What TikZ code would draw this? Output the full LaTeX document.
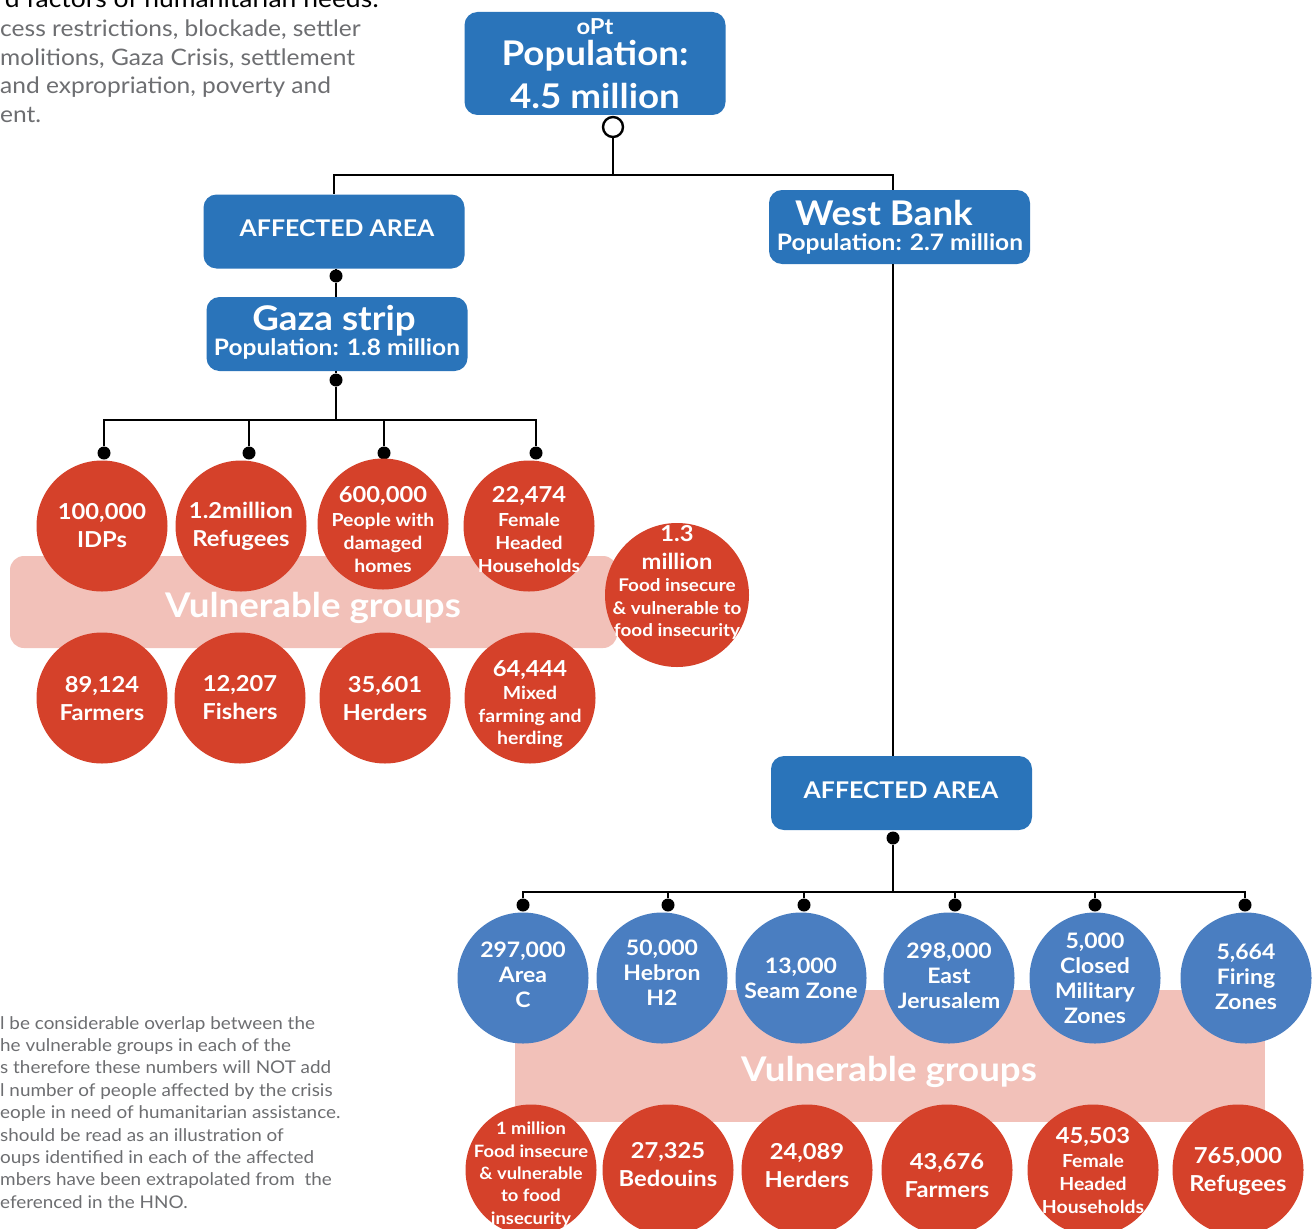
\documentclass[tikz,border=0pt]{standalone}
\usepackage{fontspec}
\setmainfont{Lato}[FakeStretch=1.08]
\newcommand\fsz[2]{\fontsize{#1}{#2}\selectfont}
\definecolor{boxblue}{HTML}{2A74BA}
\definecolor{circblue}{HTML}{4A7EC1}
\definecolor{circred}{HTML}{D5412A}
\definecolor{bandpink}{HTML}{F2C1B9}
\definecolor{graytxt}{HTML}{6D6E71}
\tikzset{
  bluebox/.style={fill=boxblue, rounded corners=13pt, draw=none, inner sep=0pt, minimum width=261pt, minimum height=74pt},
  redc/.style={circle, fill=circred, draw=none, inner sep=0pt, minimum size=131pt},
  bluec/.style={circle, fill=circblue, draw=none, inner sep=0pt, minimum size=131pt},
  band/.style={fill=bandpink, rounded corners=14pt, draw=none, inner sep=0pt},
  wt/.style={text=white, font=\bfseries, align=center, inner sep=0pt},
  conn/.style={draw=black, line width=2.8pt},
  dotn/.style={circle, fill=black, inner sep=0pt, minimum size=13pt},
  gt/.style={text=graytxt, anchor=base west, inner sep=0pt},
  big/.style={font=\bfseries\fsz{22}{28}},
  small/.style={font=\bfseries\fsz{18}{22.8}},
  bsmall/.style={font=\bfseries\fsz{21.3}{25}},
}
\begin{document}
\begin{tikzpicture}[x=1pt,y=-1pt]
\useasboundingbox (0,0) rectangle (1316,1228);
\clip (0,0) rectangle (1316,1228);
\fill[white] (0,0) rectangle (1316,1228);

% ---- top-left text
\node[anchor=base east, inner sep=0pt, font=\fsz{24.5}{30}] (hdr) at (379,8) {d factors of humanitarian needs:};
\node[gt, font=\fsz{22.7}{28}] (t1) at (0,37) {cess restrictions, blockade, settler};
\node[gt, font=\fsz{22.7}{28}] (t2) at (0,66) {molitions, Gaza Crisis, settlement};
\node[gt, font=\fsz{22.7}{28}] (t3) at (0,94) {and expropriation, poverty and};
\node[gt, font=\fsz{22.7}{28}] (t4) at (0,123) {ent.};

% ---- bottom-left text
\foreach \t [count=\i from 0] in {l be considerable overlap between the,he vulnerable groups in each of the,s therefore these numbers will NOT add,l number of people affected by the crisis,eople in need of humanitarian assistance.,should be read as an illustration of,oups identified in each of the affected,mbers have been extrapolated from \ the,eferenced in the HNO.}
  \node[gt, font=\fsz{17.5}{22}] (b\i) at (0,1029+22.4*\i) {\t};

% ---- bands
\node[band, minimum width=607pt, minimum height=92pt] (band1) at (313.5,602) {};
\node[band, rounded corners=0pt, minimum width=750pt, minimum height=132pt] (band2) at (890,1056) {};
\node[wt, font=\bfseries\fsz{34}{40}] (vg1) at (313,608) {Vulnerable groups};
\node[wt, font=\bfseries\fsz{34}{40}] (vg2) at (889,1072) {Vulnerable groups};

% ---- boxes
\node[bluebox, minimum height=103pt] (opt) at (595,63.5) {};
\node[wt, font=\bfseries\fsz{22}{26}] at (595,27) {oPt};
\node[wt, font=\bfseries\fsz{34}{40}] at (595,56) {Population:};
\node[wt, font=\bfseries\fsz{34}{40}] at (595,96) {4.5 million};

\node[bluebox] (aa1) at (334,231.5) {};
\node[wt, font=\bfseries\fsz{23}{26}] at (337,228) {AFFECTED AREA};

\node[bluebox] (gaza) at (337,334) {};
\node[wt, font=\bfseries\fsz{34}{40}] at (334,321) {Gaza strip};
\node[wt, font=\bfseries\fsz{22.7}{26}] at (337,349) {Population: 1.8 million};

\node[bluebox, minimum height=74pt] (wb) at (899.5,227) {};
\node[wt, font=\bfseries\fsz{34}{40}] at (884,213) {West Bank};
\node[wt, font=\bfseries\fsz{22.7}{26}] at (900,244) {Population: 2.7 million};

\node[bluebox] (aa2) at (901.5,793) {};
\node[wt, font=\bfseries\fsz{23}{26}] at (901,790) {AFFECTED AREA};

% ---- connectors (top)
\node[circle, draw=black, line width=2.4pt, fill=white, inner sep=0pt, minimum size=20pt] (odot) at (613,127) {};
\coordinate (j1) at (613,175);
\coordinate (wbt) at (893,190);
\draw[conn] (odot.south) -- (j1);
\draw[conn] (j1) -| (aa1.north);
\draw[conn] (j1) -| (wbt);

% Gaza
\node[dotn] (gd1) at (336,276) {};
\node[dotn] (gd2) at (336,380) {};
\draw[conn] (gd1) -- (gaza.north -| gd1);
\draw[conn] (aa1.south -| gd1) -- (gd1);
\draw[conn] (gaza.south -| gd2) -- (gd2);
\coordinate (j2) at (336,420);
\draw[conn] (gd2) -- (j2);
\node[dotn] (gk1) at (104,453) {};
\node[dotn] (gk2) at (249,453) {};
\node[dotn] (gk3) at (384,453) {};
\node[dotn] (gk4) at (536,453) {};
\draw[conn] (gk1) |- (j2) -| (gk4);
\draw[conn] (gk2) -- (gk2 |- j2);
\draw[conn] (gk3) -- (gk3 |- j2);

% West Bank
\coordinate (wbb) at (893,264);
\coordinate (aa2t) at (893,756);
\draw[conn] (wbb) -- (aa2t);
\node[dotn] (wd1) at (893,838) {};
\coordinate (j3) at (893,892);
\draw[conn] (wd1) -- (j3);
\node[dotn] (wk1) at (523,905) {};
\node[dotn] (wk2) at (668,905) {};
\node[dotn] (wk3) at (804,905) {};
\node[dotn] (wk4) at (955,905) {};
\node[dotn] (wk5) at (1095,905) {};
\node[dotn] (wk6) at (1245,905) {};
\draw[conn] (wk1) |- (j3) -| (wk6);
\foreach \k in {wk2,wk3,wk4,wk5} \draw[conn] (\k) -- (\k |- j3);

% ---- Gaza circles
\node[redc] (g1) at (102,526) {};
\node[redc] (g2) at (241,526) {};
\node[redc] (g3) at (383,524) {};
\node[redc] (g4) at (529,526) {};
\node[redc, minimum size=144pt] (g5) at (677,595) {};
\node[redc] (g6) at (102,698) {};
\node[redc] (g7) at (240,698) {};
\node[redc] (g8) at (385,698) {};
\node[redc] (g9) at (530,698) {};

\node[wt, big] at (102,526) {100,000\\IDPs};
\node[wt, big] at (241,526) {1.2million\\Refugees};
\node[wt, big] at (383,496) {600,000};
\node[wt, small] at (383,543) {People with\\damaged\\homes};
\node[wt, big] at (529,496) {22,474};
\node[wt, small] at (529,543) {Female\\Headed\\Households};
\node[wt, big] at (677,548) {1.3\\million};
\node[wt, font=\bfseries\fsz{17.5}{22.8}] at (677,609) {Food insecure\\\& vulnerable to\\food insecurity};
\node[wt, big] at (102,699) {89,124\\Farmers};
\node[wt, big] at (240,698) {12,207\\Fishers};
\node[wt, big] at (385,699) {35,601\\Herders};
\node[wt, big] at (530,670) {64,444};
\node[wt, small] at (530,717) {Mixed\\farming and\\herding};

% ---- West Bank blue circles
\node[bluec] (w1) at (523,978) {};
\node[bluec] (w2) at (662,978) {};
\node[bluec] (w3) at (801,978) {};
\node[bluec] (w4) at (949,978) {};
\node[bluec] (w5) at (1095,978) {};
\node[bluec] (w6) at (1246,978) {};
\node[wt, bsmall] at (523,975) {297,000\\Area\\C};
\node[wt, bsmall] at (662,973) {50,000\\Hebron\\H2};
\node[wt, bsmall] at (801,978.5) {13,000\\Seam Zone};
\node[wt, bsmall] at (949,975.5) {298,000\\East\\Jerusalem};
\node[wt, bsmall] at (1095,978.5) {5,000\\Closed\\Military\\Zones};
\node[wt, bsmall] at (1246,977) {5,664\\Firing\\Zones};

% ---- West Bank red circles
\node[redc] (r1) at (531,1170) {};
\node[redc] (r2) at (668,1170) {};
\node[redc] (r3) at (807,1170) {};
\node[redc] (r4) at (947,1170) {};
\node[redc] (r5) at (1093,1170) {};
\node[redc] (r6) at (1238,1170) {};
\node[wt, font=\bfseries\fsz{17}{22.3}] at (531,1174.5) {1 million\\Food insecure\\\& vulnerable\\to food\\insecurity};
\node[wt, big] at (668,1165) {27,325\\Bedouins};
\node[wt, big] at (807,1166) {24,089\\Herders};
\node[wt, big] at (947,1175.5) {43,676\\Farmers};
\node[wt, big] at (1093,1137) {45,503};
\node[wt, small] at (1093,1184) {Female\\Headed\\Households};
\node[wt, big] at (1238,1171) {765,000\\Refugees};
\end{tikzpicture}
\end{document}
